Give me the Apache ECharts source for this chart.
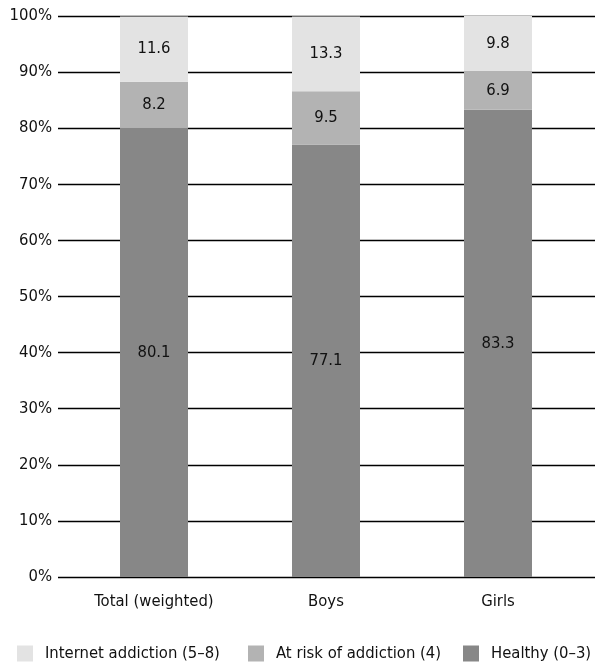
<!DOCTYPE html>
<html><head><meta charset="utf-8">
<script src="https://cdn.jsdelivr.net/npm/echarts@6/dist/echarts.min.js"></script>
<style>html,body{margin:0;padding:0;background:#fff}#c{width:595px;height:668px}</style>
</head><body><div id="c"></div>
<script>
const categories = ['Total (weighted)', 'Boys', 'Girls'];
const healthy = [80.1, 77.1, 83.3];
const atRisk = [8.2, 9.5, 6.9];
const addiction = [11.6, 13.3, 9.8];
const yTicks = [0, 10, 20, 30, 40, 50, 60, 70, 80, 90, 100];
const legendNames = ['Internet addiction (5–8)', 'At risk of addiction (4)', 'Healthy (0–3)'];

const FONT = "'Liberation Sans Narrow', 'DejaVu Sans Condensed', sans-serif";
const chart = echarts.init(document.getElementById('c'));
const lbl = {show: true, position: 'inside', color: '#111', fontSize: 16.5, fontFamily: FONT};
const legendLeft = [17, 248, 463];
chart.setOption({
  animation: false,
  textStyle: {fontFamily: FONT},
  grid: [
    {left: 58, right: 0, top: 16, bottom: 91},
    {left: 68, right: 11, top: 16, bottom: 91}
  ],
  xAxis: [
    {type: 'category', gridIndex: 0, data: categories, show: false},
    {type: 'category', gridIndex: 1, data: categories,
     axisLine: {show: false}, axisTick: {show: false},
     axisLabel: {color: '#111', fontSize: 16.5, fontFamily: FONT, margin: 16}}
  ],
  yAxis: [
    {type: 'value', gridIndex: 0, min: 0, max: 100, interval: 10,
     axisLine: {show: false}, axisTick: {show: false},
     axisLabel: {formatter: v => yTicks.includes(v) ? v + '%' : '', color: '#111', fontSize: 16.5, fontFamily: FONT, margin: 6},
     splitLine: {lineStyle: {color: '#000', width: 1.4}}},
    {type: 'value', gridIndex: 1, min: 0, max: 100, interval: 10, show: false}
  ],
  legend: legendNames.map((n, i) => ({
    top: 645, left: legendLeft[i], padding: 0, itemWidth: 16, itemHeight: 16,
    icon: 'rect', textStyle: {color: '#111', fontSize: 16.5, fontFamily: FONT, padding: [0, 0, 0, 7]},
    data: [n]
  })),
  series: [
    {name: 'Healthy (0–3)', type: 'bar', stack: 's', xAxisIndex: 1, yAxisIndex: 1, barWidth: 68, zlevel: 1,
     data: healthy, itemStyle: {color: '#878787'}, label: lbl},
    {name: 'At risk of addiction (4)', type: 'bar', stack: 's', xAxisIndex: 1, yAxisIndex: 1, barWidth: 68, zlevel: 1,
     data: atRisk, itemStyle: {color: '#b3b3b3'}, label: lbl},
    {name: 'Internet addiction (5–8)', type: 'bar', stack: 's', xAxisIndex: 1, yAxisIndex: 1, barWidth: 68, zlevel: 1,
     data: addiction, itemStyle: {color: '#e3e3e3'}, label: lbl}
  ]
});
</script></body></html>
